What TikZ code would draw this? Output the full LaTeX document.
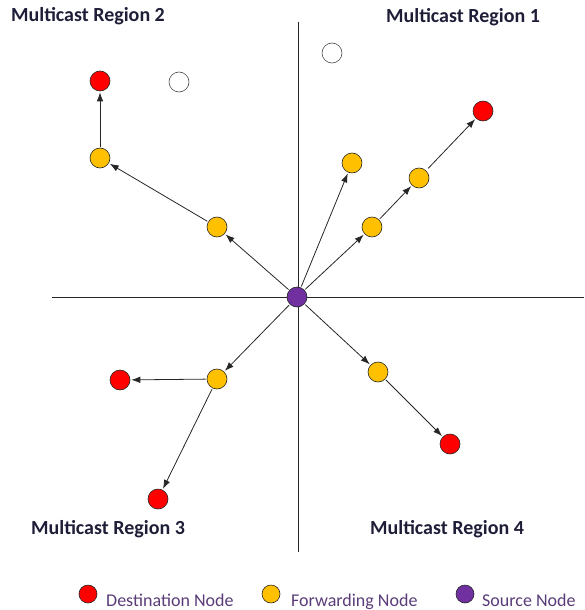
\documentclass[tikz,border=0pt]{standalone}
\usepackage{fontspec}
\setmainfont{Carlito}
\usepackage{tikz}
\usetikzlibrary{arrows.meta,positioning}
\definecolor{dest}{HTML}{FF0000}
\definecolor{fwd}{HTML}{FFC000}
\definecolor{src}{HTML}{7030A0}
\definecolor{legtext}{HTML}{5A3C78}
\definecolor{titletext}{HTML}{1E1E38}
\tikzset{
  dot/.style={circle,draw=black!85,line width=0.6pt,minimum size=20pt,inner sep=0pt},
  destnode/.style={dot,fill=dest},
  fwdnode/.style={dot,fill=fwd},
  srcnode/.style={dot,fill=src},
  emptynode/.style={dot,fill=white,draw=black!70},
  region/.style={anchor=base,font=\bfseries\fontsize{20}{22}\selectfont,text=titletext},
  legend/.style={anchor=base west,inner sep=0pt,text=legtext,font=\fontsize{18}{20}\selectfont},
  hop/.style={->,line width=0.8pt,black!85,shorten >=1pt,shorten <=1pt}
}

\begin{document}
\begin{tikzpicture}[x=1pt,y=-1pt,>={Latex[length=9pt,width=6.5pt]},line join=round]
\useasboundingbox (0,0) rectangle (584,610);
% --- axes
\draw[black!85,line width=0.9pt] (298,22) -- (298,552);
\draw[black!85,line width=0.9pt] (52,297) -- (584,297);
% --- region titles
\node[region] (r1) at (463,23) {Multicast Region 1};
\node[region] (r2) at (88,22) {Multicast Region 2};
\node[region] (r3) at (108,534) {Multicast Region 3};
\node[region] (r4) at (447,534) {Multicast Region 4};
% --- nodes
\node[srcnode] (s) at (297,297) {};
\node[emptynode] (e1) at (332,53) {};
\node[fwdnode] (f1a) at (352,163) {};
\node[fwdnode] (f1b) at (372,227) {};
\node[fwdnode] (f1c) at (419,178) {};
\node[destnode] (d1) at (483,111) {};
\node[emptynode] (e2) at (179,82) {};
\node[destnode] (d2) at (100,81) {};
\node[fwdnode] (f2a) at (100,158) {};
\node[fwdnode] (f2b) at (217,227) {};
\node[fwdnode] (f3) at (217,379) {};
\node[destnode] (d3a) at (120,380) {};
\node[destnode] (d3b) at (158,499) {};
\node[fwdnode] (f4) at (378,372) {};
\node[destnode] (d4) at (450,444) {};
% --- forwarding paths
\draw[hop] (s) -- (f1a);
\draw[hop] (s) -- (f1b);
\draw[hop] (f1b) -- (f1c);
\draw[hop,shorten <=3pt] (f1c) -- (d1);
\draw[hop] (s) -- (f2b);
\draw[hop] (f2b) -- (f2a);
\draw[hop] (f2a) -- (d2);
\draw[hop] (s) -- (f3);
\draw[hop] (f3) -- (d3a);
\draw[hop] (f3) -- (d3b);
\draw[hop] (s) -- (f4);
\draw[hop] (f4) -- (d4);
% --- legend
\node[destnode,minimum size=18pt] (ld) at (88,594) {};
\node[legend] (ldt) at (106,606) {Destination Node};
\node[fwdnode,minimum size=18pt] (lf) at (271,594) {};
\node[legend] (lft) at (291,606) {Forwarding Node};
\node[srcnode,minimum size=18pt] (ls) at (465,594) {};
\node[legend] (lst) at (482,606) {Source Node};
\end{tikzpicture}
\end{document}
